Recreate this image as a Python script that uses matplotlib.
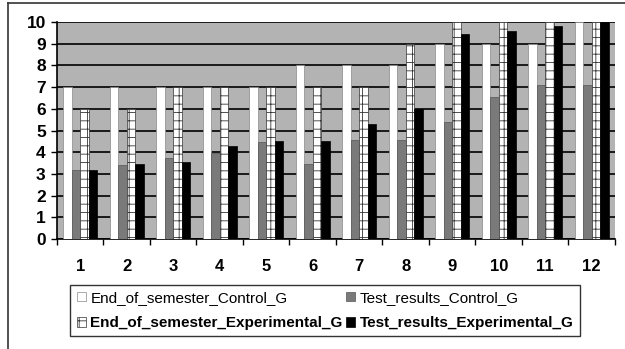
import numpy as np
import matplotlib.pyplot as plt
from matplotlib.ticker import FixedLocator

plt.rcParams['font.family'] = ['Liberation Sans', 'DejaVu Sans']
plt.rcParams['hatch.linewidth'] = 0.6

# Données
groups = [str(i) for i in range(1, 13)]
end_control = [7, 7, 7, 7, 7, 8, 8, 8, 9, 9, 9, 10]
test_control = [3.2, 3.4, 3.75, 3.95, 4.45, 3.45, 4.55, 4.55, 5.4, 6.55, 7.1, 7.1]
end_experimental = [6, 6, 7, 7, 7, 7, 7, 9, 10, 10, 10, 10]
test_experimental = [3.2, 3.45, 3.55, 4.3, 4.5, 4.5, 5.3, 6.0, 9.45, 9.6, 9.8, 10]


def main():
    fig = plt.figure(figsize=(6.25, 3.49), dpi=100)
    ax = fig.add_axes([0.091, 0.315, 0.893, 0.622])
    ax.set_facecolor('#b3b3b3')

    x = np.arange(len(groups))
    w = 0.183
    b1 = ax.bar(x - 1.5 * w, end_control, w, color='white', edgecolor='#888888', linewidth=0.5, zorder=3,
                label='End_of_semester_Control_G')
    b2 = ax.bar(x - 0.5 * w, test_control, w, color='#7a7a7a', edgecolor='#555555', linewidth=0.5, zorder=3,
                label='Test_results_Control_G')
    b3 = ax.bar(x + 0.5 * w, end_experimental, w, color='white', edgecolor='#333333', linewidth=0.5,
                hatch='++', zorder=3, label='End_of_semester_Experimental_G')
    b4 = ax.bar(x + 1.5 * w, test_experimental, w, color='black', edgecolor='black', linewidth=0.5, zorder=3,
                label='Test_results_Experimental_G')

    ax.set_xlim(-0.5, len(groups) - 0.5)
    ax.set_ylim(0, 10)
    ax.set_yticks(range(0, 11))
    ax.yaxis.grid(True, color='black', linewidth=1.2, zorder=1)
    ax.set_axisbelow(True)

    ax.set_xticks(x)
    ax.set_xticklabels(groups, fontsize=12, fontweight='bold')
    ax.tick_params(axis='x', which='major', length=0, pad=14)
    ax.xaxis.set_minor_locator(FixedLocator(np.arange(-0.5, len(groups), 1.0)))
    ax.tick_params(axis='x', which='minor', length=4, direction='out', width=1)
    ax.tick_params(axis='y', length=4, width=1, labelsize=12.5, pad=4)
    for t in ax.get_yticklabels():
        t.set_fontweight('bold')

    for s in ['top', 'right']:
        ax.spines[s].set_visible(False)
    ax.spines['left'].set_linewidth(1.2)
    ax.spines['bottom'].set_linewidth(1.2)

    handles = [b1, b3, b2, b4]
    leg = fig.legend(handles, [h.get_label() for h in handles], ncol=2,
                     loc='center', bbox_to_anchor=(0.52, 0.11), fontsize=11,
                     frameon=True, fancybox=False, edgecolor='black',
                     handlelength=0.6, handleheight=0.6, handletextpad=0.3,
                     columnspacing=0.2, labelspacing=0.75, borderpad=0.4)
    leg.get_frame().set_linewidth(1.0)
    for t in leg.get_texts():
        if 'Experimental' in t.get_text():
            t.set_fontweight('bold')

    # cadre extérieur (gauche et haut)
    fig.add_artist(plt.Line2D([0.013, 0.013], [0, 0.99], color='#333333', linewidth=1.2,
                              transform=fig.transFigure))
    fig.add_artist(plt.Line2D([0.013, 1.0], [0.99, 0.99], color='#333333', linewidth=1.2,
                              transform=fig.transFigure))

    fig.savefig('out.png', dpi=100)


if __name__ == "__main__":
    main()
